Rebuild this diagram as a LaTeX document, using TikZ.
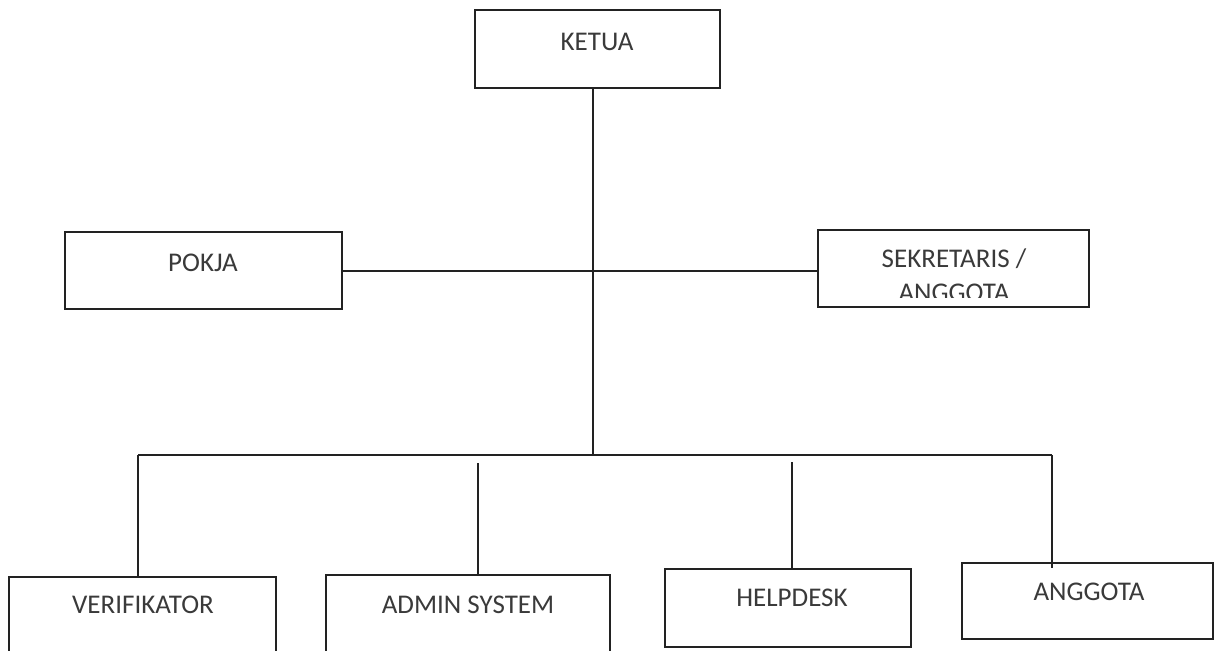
\documentclass[tikz,border=0pt]{standalone}
\usepackage{fontspec}
\setmainfont{Carlito}
\definecolor{inkline}{HTML}{222222}
\definecolor{inktext}{HTML}{3A3A3A}
\tikzset{
  orgbox/.style={draw=inkline, line width=2pt, rectangle, inner sep=0pt},
  orglbl/.style={text=inktext, font=\fontsize{27}{31}\selectfont, inner sep=0pt, anchor=center},
  link/.style={draw=inkline, line width=2pt}
}
\begin{document}
\begin{tikzpicture}[x=1pt,y=-1pt]
\useasboundingbox (0,0) rectangle (1214,650);
\clip (0,0) rectangle (1214,650);
\fill[white] (0,0) rectangle (1214,650);
% boxes
\node[orgbox, minimum width=245pt, minimum height=78pt] (ketua) at (597.5,49) {};
\node[orglbl] (tketua) at (597,42) {KETUA};
\node[orgbox, minimum width=277pt, minimum height=77pt] (pokja) at (203.5,270.5) {};
\node[orglbl] (tpokja) at (203,263) {POKJA};
\node[orgbox, minimum width=271pt, minimum height=77pt] (sekr) at (953.5,268.5) {};
\begin{scope}
\clip (818,230) rectangle (1089,297);
\node[orglbl, align=center, font=\fontsize{27}{34}\selectfont] (tsekr) at (954,275) {SEKRETARIS /\\ANGGOTA};
\end{scope}
\node[orgbox, minimum width=267pt, minimum height=95pt] (verif) at (142.5,624.5) {};
\node[orglbl] (tverif) at (143,605) {VERIFIKATOR};
\node[orgbox, minimum width=284pt, minimum height=97pt] (admin) at (468,623.5) {};
\node[orglbl] (tadmin) at (468,605) {ADMIN SYSTEM};
\node[orgbox, minimum width=246pt, minimum height=78pt] (help) at (788,608) {};
\node[orglbl] (thelp) at (792,598) {HELPDESK};
\node[orgbox, minimum width=251pt, minimum height=76pt] (angg) at (1087.5,601) {};
\node[orglbl] (tangg) at (1089,592) {ANGGOTA};
% coordinates
\coordinate (hub) at (593,455);
\coordinate (barL) at (138,455);
\coordinate (barR) at (1052,455);
\coordinate (adminTop) at (478,463);
\coordinate (helpTop) at (792,462);
\coordinate (anggEnd) at (1052,568);
% connectors
\draw[link] (ketua.south -| hub) -- (hub);
\draw[link] (pokja.east) -- (sekr.west |- pokja.east);
\draw[link] (barL) -- (barR);
\draw[link] (barL) -- (verif.north -| barL);
\draw[link] (adminTop) -- (admin.north -| adminTop);
\draw[link] (helpTop) -- (help.north -| helpTop);
\draw[link] (barR) -- (anggEnd);
\end{tikzpicture}
\end{document}
